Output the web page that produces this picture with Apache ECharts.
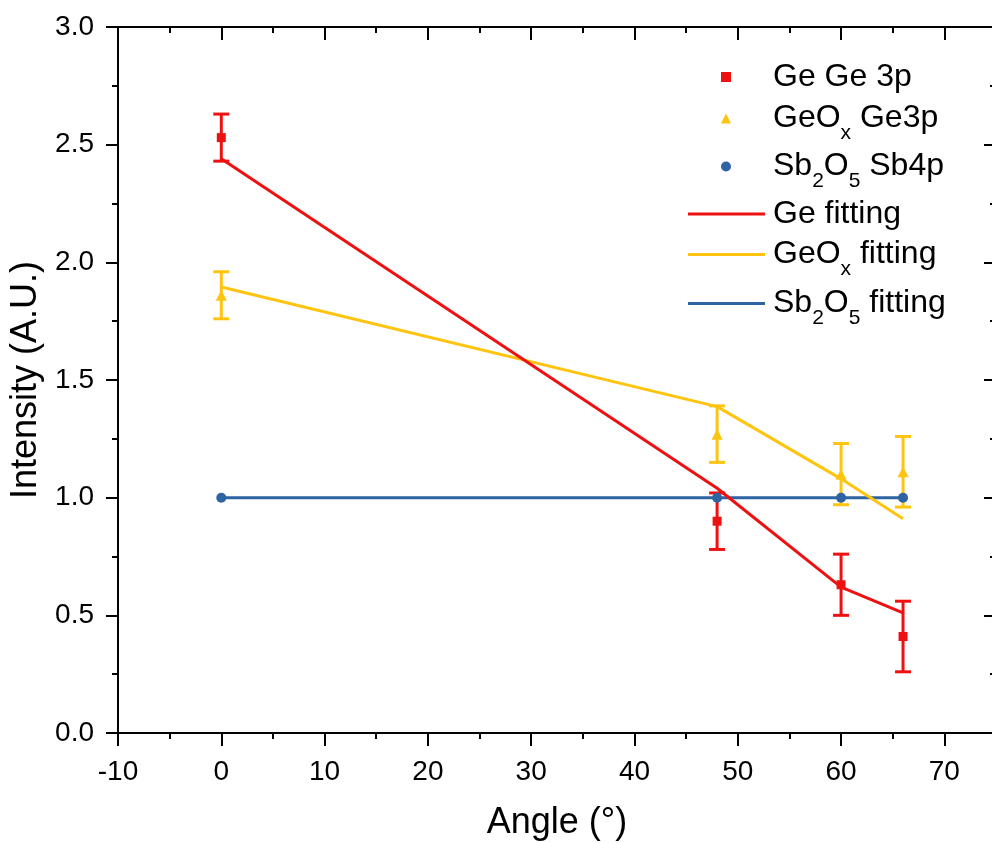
<!DOCTYPE html>
<html>
<head>
<meta charset="utf-8">
<script src="https://cdn.jsdelivr.net/npm/echarts@6/dist/echarts.min.js"></script>
<style>
html,body{margin:0;padding:0;background:#fff;overflow:hidden;}
#chart{width:992px;height:843px;}
</style>
</head>
<body>
<div id="chart"></div>
<script>
// ---- data ----
const angles = [0, 48, 60, 66];
const geValues = [2.53, 0.90, 0.63, 0.41];
const geErrors = [0.10, 0.12, 0.13, 0.15];
const geoxValues = [1.86, 1.27, 1.10, 1.11];
const geoxErrors = [0.10, 0.12, 0.13, 0.15];
const sbValues = [1.0, 1.0, 1.0, 1.0];
const geFit = [2.44, 1.04, 0.62, 0.51];
const geoxFit = [1.895, 1.387, 1.08, 0.91];
const sbFit = [1.0, 1.0, 1.0, 1.0];
const xTicks = [-10, 0, 10, 20, 30, 40, 50, 60, 70];
const yTicks = [0.0, 0.5, 1.0, 1.5, 2.0, 2.5, 3.0];
const seriesNames = ['Ge Ge 3p', 'GeOx Ge3p', 'Sb2O5 Sb4p', 'Ge fitting', 'GeOx fitting', 'Sb2O5 fitting'];

const RED = '#ee1111';
const YELLOW = '#ffc410';
const BLUE = '#2f64a3';
const FONT = '"Liberation Sans", Arial, sans-serif';

function pairs(ys) { return angles.map((a, i) => [a, ys[i]]); }
function errPairs(ys, es) { return angles.map((a, i) => [a, ys[i], es[i]]); }

function errorBarRenderer(color) {
  return function (params, api) {
    const x = api.value(0), y = api.value(1), e = api.value(2);
    const top = api.coord([x, y + e]);
    const bot = api.coord([x, y - e]);
    const hw = 8;
    const st = { stroke: color, lineWidth: 3 };
    return {
      type: 'group',
      children: [
        { type: 'line', shape: { x1: top[0], y1: top[1], x2: bot[0], y2: bot[1] }, style: st },
        { type: 'line', shape: { x1: top[0] - hw, y1: top[1], x2: top[0] + hw, y2: top[1] }, style: st },
        { type: 'line', shape: { x1: bot[0] - hw, y1: bot[1], x2: bot[0] + hw, y2: bot[1] }, style: st }
      ]
    };
  };
}

const LFS = 32;
const legendRich = {
  p: { width: 37 },
  q: { width: 3 },
  t: { fontSize: LFS, lineHeight: 34, color: '#000', fontFamily: FONT },
  T: { fontSize: LFS, lineHeight: 34, color: '#000', fontFamily: FONT },
  s: { fontSize: 21, lineHeight: 18, padding: [30, 0, 0, 0], color: '#000', fontFamily: FONT }
};
const legendLabels = {
  'Ge Ge 3p': '{p|}{t|Ge Ge 3p}',
  'GeOx Ge3p': '{p|}{T|GeO}{s|x}{T| Ge3p}',
  'Sb2O5 Sb4p': '{p|}{T|Sb}{s|2}{T|O}{s|5}{T| Sb4p}',
  'Ge fitting': '{q|}{t|Ge fitting}',
  'GeOx fitting': '{q|}{T|GeO}{s|x}{T| fitting}',
  'Sb2O5 fitting': '{q|}{T|Sb}{s|2}{T|O}{s|5}{T| fitting}'
};
// legend row placement (layout only)
const legendTops = [61, 93, 141, 198, 229, 278];

function makeLegend(name, idx) {
  const isLine = idx >= 3;
  return {
    data: isLine ? [{ name: name, icon: 'rect' }] : [name],
    orient: 'vertical', left: isLine ? 688 : 721, top: legendTops[idx], padding: 0,
    itemWidth: isLine ? 77 : 10, itemHeight: isLine ? 3 : 10,
    formatter: n => legendLabels[n],
    textStyle: { rich: legendRich, fontSize: LFS, fontFamily: FONT, color: '#000' }
  };
}

const axisLine = { show: true, onZero: false, lineStyle: { color: '#000', width: 2 } };

const chart = echarts.init(document.getElementById('chart'), null, { renderer: 'canvas' });
chart.setOption({
  animation: false,
  backgroundColor: '#fff',
  grid: { left: 118, top: 27, right: -4, bottom: 110, containLabel: false, outerBoundsMode: 'none' },
  legend: seriesNames.map(makeLegend),
  xAxis: [
    {
      type: 'value', min: -10, max: 75, interval: 10, position: 'bottom',
      name: 'Angle (°)', nameLocation: 'middle', nameGap: 72,
      nameTextStyle: { fontSize: 36, color: '#000', fontFamily: FONT },
      axisLine: axisLine,
      axisTick: { show: true, inside: false, length: 13, lineStyle: { color: '#000', width: 2 } },
      minorTick: { show: true, splitNumber: 2, length: 6, lineStyle: { color: '#000', width: 2 } },
      axisLabel: {
        show: true, margin: 25, fontSize: 28, color: '#000', fontFamily: FONT,
        showMaxLabel: false,
        formatter: v => (xTicks.indexOf(v) >= 0 ? String(v) : '')
      },
      splitLine: { show: false }
    },
    {
      type: 'value', min: -10, max: 75, interval: 10, position: 'top',
      axisLine: axisLine,
      axisTick: { show: true, inside: true, length: 13, lineStyle: { color: '#000', width: 2 } },
      minorTick: { show: true, splitNumber: 2, length: 6, lineStyle: { color: '#000', width: 2 } },
      axisLabel: { show: false },
      splitLine: { show: false }
    }
  ],
  yAxis: [
    {
      type: 'value', min: 0, max: 3, interval: 0.5, position: 'left',
      name: 'Intensity (A.U.)', nameLocation: 'middle', nameGap: 72,
      nameTextStyle: { fontSize: 36, color: '#000', fontFamily: FONT },
      axisLine: axisLine,
      axisTick: { show: true, inside: false, length: 12, lineStyle: { color: '#000', width: 2 } },
      minorTick: { show: true, splitNumber: 2, length: 6, lineStyle: { color: '#000', width: 2 } },
      axisLabel: {
        show: true, margin: 24, fontSize: 28, color: '#000', fontFamily: FONT,
        formatter: v => (yTicks.indexOf(v) >= 0 ? v.toFixed(1) : '')
      },
      splitLine: { show: false }
    },
    {
      type: 'value', min: 0, max: 3, interval: 0.5, position: 'right',
      axisLine: axisLine,
      axisTick: { show: true, inside: true, length: 12, lineStyle: { color: '#000', width: 2 } },
      minorTick: { show: true, splitNumber: 2, length: 6, lineStyle: { color: '#000', width: 2 } },
      axisLabel: { show: false },
      splitLine: { show: false }
    }
  ],
  series: [
    {
      name: 'Sb2O5 fitting', type: 'line', data: pairs(sbFit), symbol: 'none',
      lineStyle: { color: BLUE, width: 3 }, itemStyle: { color: BLUE }, z: 3
    },
    {
      name: 'GeOx fitting', type: 'line', data: pairs(geoxFit), symbol: 'none',
      lineStyle: { color: YELLOW, width: 3 }, itemStyle: { color: YELLOW }, z: 3
    },
    {
      name: 'Ge fitting', type: 'line', data: pairs(geFit), symbol: 'none',
      lineStyle: { color: RED, width: 3 }, itemStyle: { color: RED }, z: 4
    },
    {
      name: 'GeOx err', type: 'custom', data: errPairs(geoxValues, geoxErrors),
      renderItem: errorBarRenderer(YELLOW), z: 5, silent: true
    },
    {
      name: 'Ge err', type: 'custom', data: errPairs(geValues, geErrors),
      renderItem: errorBarRenderer(RED), z: 5, silent: true
    },
    {
      name: 'Ge Ge 3p', type: 'scatter', data: pairs(geValues), symbol: 'rect', symbolSize: 9,
      itemStyle: { color: RED, opacity: 1 }, z: 6
    },
    {
      name: 'GeOx Ge3p', type: 'scatter', data: pairs(geoxValues), symbol: 'triangle', symbolSize: 11,
      itemStyle: { color: YELLOW, opacity: 1 }, z: 6
    },
    {
      name: 'Sb2O5 Sb4p', type: 'scatter', data: pairs(sbValues), symbol: 'circle', symbolSize: 10,
      itemStyle: { color: BLUE, opacity: 1 }, z: 6
    }
  ]
});
</script>
</body>
</html>
